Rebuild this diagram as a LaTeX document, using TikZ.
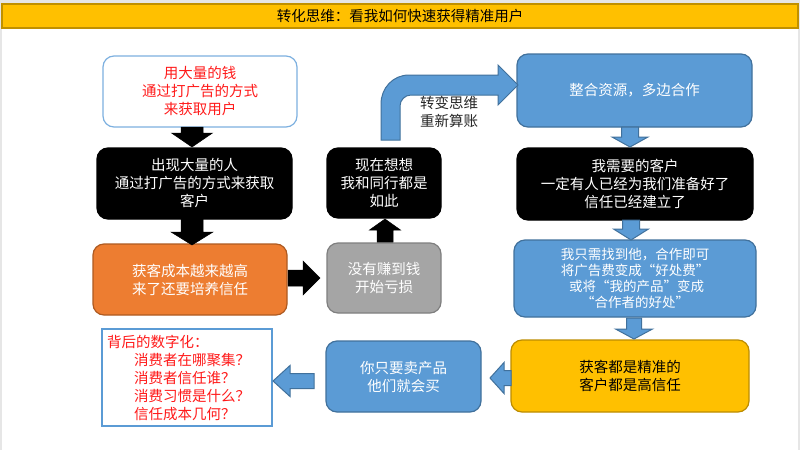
\documentclass[tikz,border=0pt]{standalone}
\usepackage{fontspec}
\setmainfont{Noto Sans CJK SC}
\newcommand{\fwoq}{\makebox[1em][r]{“}}
\newcommand{\fwcq}{\makebox[1em][l]{”}}
\definecolor{pagegray}{HTML}{E6E6E6}
\definecolor{tyellow}{HTML}{FFC000}
\definecolor{tborder}{HTML}{C09000}
\definecolor{mblue}{HTML}{5B9BD5}
\definecolor{mblueb}{HTML}{41719C}
\definecolor{lblue}{HTML}{7DB0E0}
\definecolor{morange}{HTML}{ED7D31}
\definecolor{morangeb}{HTML}{AE5A21}
\definecolor{mgray}{HTML}{A5A5A5}
\definecolor{mgrayb}{HTML}{7F7F7F}
\definecolor{myellowb}{HTML}{BC8C00}
\definecolor{tred}{HTML}{FF1A1A}
\newcommand{\vblockarrow}[7]{\draw[#1] ({#2-#6},#3) -- ({#2-#6},#4) -- ({#2-#7},#4) -- (#2,#5) -- ({#2+#7},#4) -- ({#2+#6},#4) -- ({#2+#6},#3) -- cycle;}
\newcommand{\hblockarrow}[7]{\draw[#1] (#3,{#2-#6}) -- (#4,{#2-#6}) -- (#4,{#2-#7}) -- (#5,#2) -- (#4,{#2+#7}) -- (#4,{#2+#6}) -- (#3,{#2+#6}) -- cycle;}
\begin{document}
\begin{tikzpicture}[x=1pt,y=-1pt,
  box/.style={rounded corners=11pt, line width=1.2pt, inner sep=0pt, align=center,
    font=\fontsize{14.5}{18}\selectfont},
  blackbox/.style={box, fill=black, draw=black, text=white},
  bluebox/.style={box, fill=mblue, draw=mblueb, text=white},
  blackarrow/.style={fill=black, draw=black, line width=0.5pt},
  bluearrow/.style={fill=mblue, draw=mblueb, line width=1pt},
]
\useasboundingbox (0,0) rectangle (800,450);
\fill[pagegray] (0,0) rectangle (800,450);
\fill[white] (2,3) rectangle (798,450);

\node[fill=tyellow, draw=tborder, line width=1.2pt, minimum width=796pt, minimum height=24pt, inner sep=0pt,
  font=\fontsize{14.5}{18}\selectfont] (title) at (400,16) {转化思维：看我如何快速获得精准用户};

% left column
\node[box, fill=white, draw=lblue, text=tred, minimum width=194pt, minimum height=71pt] (b1) at (200,91.5)
  {用大量的钱\\通过打广告的方式\\来获取用户};
\node[blackbox, minimum width=195pt, minimum height=71pt] (b2) at (194.5,183.5)
  {出现大量的人\\通过打广告的方式来获取\\客户};
\node[box, fill=morange, draw=morangeb, text=white, minimum width=194pt, minimum height=71pt] (b3) at (190,279.5)
  {获客成本越来越高\\来了还要培养信任};
% middle column
\node[box, fill=mgray, draw=mgrayb, text=white, minimum width=114pt, minimum height=70pt] (b4) at (384,278)
  {没有赚到钱\\开始亏损};
\node[blackbox, minimum width=114pt, minimum height=70pt] (b5) at (384,183)
  {现在想想\\我和同行都是\\如此};
% right column
\node[bluebox, minimum width=235pt, minimum height=73pt] (b6) at (634.5,90.5)
  {整合资源，多边合作};
\node[blackbox, minimum width=236pt, minimum height=72pt] (b7) at (635,184)
  {我需要的客户\\一定有人已经为我们准备好了\\信任已经建立了};
\node[bluebox, minimum width=242pt, minimum height=77pt, font=\fontsize{13.5}{15.8}\selectfont] (b8) at (635,278.5)
  {我只需找到他，合作即可\\将广告费变成\fwoq 好处费\fwcq\\\ 或将\fwoq 我的产品\fwcq 变成\\\fwoq 合作者的好处\fwcq};
\node[box, fill=tyellow, draw=myellowb, text=black, minimum width=238pt, minimum height=72pt] (b9) at (630,376)
  {获客都是精准的\\客户都是高信任};
\node[bluebox, minimum width=155pt, minimum height=71pt] (b10) at (403.5,376.5)
  {你只要卖产品\\他们就会买};
\node[draw=mblue, fill=white, line width=1.5pt, minimum width=170pt, minimum height=97pt, inner sep=0pt] (b11) at (187,377.5) {};
\node[anchor=west, align=left, text=tred, inner sep=0pt, font=\fontsize{14.5}{18}\selectfont] (b11t) at (107,377.5)
  {背后的数字化：\\\hspace*{27pt}消费者在哪聚集？\\\hspace*{27pt}消费者信任谁？\\\hspace*{27pt}消费习惯是什么？\\\hspace*{27pt}信任成本几何？};

% black block arrows
\vblockarrow{blackarrow}{192}{127}{133}{147}{11}{20.5}
\vblockarrow{blackarrow}{192}{219}{232}{245}{11}{21}
\hblockarrow{blackarrow}{278}{288}{303}{320}{8}{17}
\vblockarrow{blackarrow}{385}{242}{230}{219}{8}{15.5}

% blue block arrows
\vblockarrow{bluearrow}{630}{127}{137}{147}{8.5}{18}
\vblockarrow{bluearrow}{631}{220}{229}{240}{8.5}{17.5}
\vblockarrow{bluearrow}{634}{318}{329}{339}{7.5}{18.5}
\hblockarrow{bluearrow}{378}{511}{504}{490}{7.5}{15.5}
\hblockarrow{bluearrow}{381}{314}{290}{273}{7.5}{15.5}

% bent arrow
\draw[bluearrow] (381,140) -- (381,104) .. controls (381,88) and (393,75) .. (409,75)
  -- (498,75) -- (498,65) -- (518,85) -- (498,105) -- (498,95) -- (411,95)
  .. controls (405,95) and (400,100) .. (400,106) -- (400,140) -- cycle;
\node[align=center, text=black!85, inner sep=0pt, font=\fontsize{14.5}{18.5}\selectfont] (bt) at (449,112)
  {转变思维\\重新算账};
\end{tikzpicture}
\end{document}
